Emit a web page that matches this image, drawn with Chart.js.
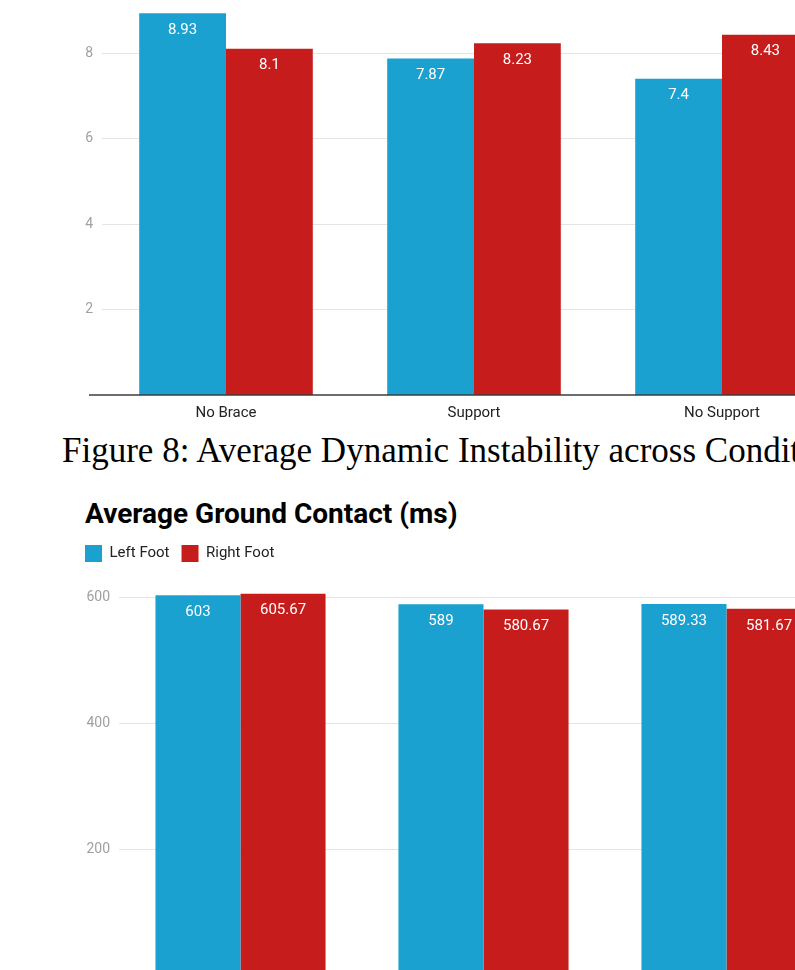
<!DOCTYPE html>
<html>
<head>
<meta charset="utf-8">
<title>Dynamic Instability and Ground Contact</title>
<script src="https://cdn.jsdelivr.net/npm/chart.js@4/dist/chart.umd.min.js"></script>
<style>
  html, body { margin: 0; padding: 0; background: #fff; }
  body { width: 795px; height: 970px; overflow: hidden; position: relative; }
  #instability { position: absolute; left: 0; top: 0; }
  #contact { position: absolute; left: 73px; top: 533px; }
  .caption {
    position: absolute; left: 62px; top: 433px;
    font-family: "Liberation Serif", "Times New Roman", serif;
    font-size: 35px; line-height: 35px; white-space: nowrap; color: #000;
  }
  .chart-title {
    position: absolute; left: 85px; top: 500px;
    font-family: Roboto, sans-serif; font-weight: 700;
    font-size: 28px; line-height: 28px; white-space: nowrap; color: #000;
  }
</style>
</head>
<body>
<canvas id="instability" width="846" height="430"></canvas>
<div class="caption">Figure 8: Average Dynamic Instability across Conditions</div>
<div class="chart-title">Average Ground Contact (ms)</div>
<canvas id="contact" width="775" height="473"></canvas>
<script>
// Conditions and series shared by both charts
const conditions = ['No Brace', 'Support', 'No Support'];
const seriesNames = ['Left Foot', 'Right Foot'];

// Average dynamic instability per condition
const instabilityLeft = [8.93, 7.87, 7.4];
const instabilityRight = [8.1, 8.23, 8.43];
const instabilityTicks = [2, 4, 6, 8];

// Average ground contact time (ms) per condition
const contactLeft = [603, 589, 589.33];
const contactRight = [605.67, 580.67, 581.67];
const contactTicks = [200, 400, 600];

const BLUE = '#1ba1cf';
const RED = '#c71c1c';

// White value text just inside the top of each bar
const valueLabels = {
  id: 'valueLabels',
  afterDatasetsDraw(chart) {
    const ctx = chart.ctx;
    ctx.save();
    ctx.font = '15px Roboto';
    ctx.fillStyle = '#ffffff';
    ctx.textAlign = 'center';
    ctx.textBaseline = 'middle';
    chart.data.datasets.forEach((ds, i) => {
      chart.getDatasetMeta(i).data.forEach((bar, j) => {
        ctx.fillText(String(ds.data[j]), bar.x, bar.y + 17);
      });
    });
    ctx.restore();
  }
};

// Dark zero line, running a little past the left edge of the plot
const zeroLine = {
  id: 'zeroLine',
  afterDatasetsDraw(chart) {
    const { ctx, chartArea, scales } = chart;
    const y = scales.y.getPixelForValue(0);
    ctx.save();
    ctx.strokeStyle = '#3c3c3c';
    ctx.lineWidth = 1.6;
    ctx.beginPath();
    ctx.moveTo(chartArea.left - 13, y);
    ctx.lineTo(chartArea.right, y);
    ctx.stroke();
    ctx.restore();
  }
};

function groupedBars(canvas, cfg) {
  return new Chart(canvas, {
    type: 'bar',
    data: {
      labels: conditions,
      datasets: [
        { label: seriesNames[0], data: cfg.left, backgroundColor: BLUE },
        { label: seriesNames[1], data: cfg.right, backgroundColor: RED }
      ]
    },
    options: {
      responsive: false,
      animation: false,
      layout: { padding: 0 },
      datasets: { bar: { categoryPercentage: 0.7, barPercentage: 1 } },
      plugins: {
        tooltip: { enabled: false },
        title: { display: false },
        legend: cfg.legend
      },
      scales: {
        x: {
          grid: { display: false },
          border: { display: false },
          ticks: { color: '#222', padding: 1, font: { family: 'Roboto', size: 15 } },
          afterFit(s) { s.height = cfg.xHeight; s.paddingLeft = 0; s.paddingRight = 0; }
        },
        y: {
          min: 0,
          max: cfg.max,
          grid: { color: '#e4e4e4', drawTicks: false },
          border: { display: false },
          ticks: { color: '#a0a0a0', padding: 9, font: { family: 'Roboto', size: 14 } },
          afterBuildTicks(s) { s.ticks = cfg.ticks.map(v => ({ value: v })); },
          afterFit(s) { s.width = cfg.yWidth; s.paddingTop = 0; s.paddingBottom = 0; }
        }
      }
    },
    plugins: cfg.plugins
  });
}

function draw() {
  groupedBars(document.getElementById('instability'), {
    left: instabilityLeft,
    right: instabilityRight,
    ticks: instabilityTicks,
    max: 9.24,
    xHeight: 35,
    yWidth: 102,
    legend: { display: false },
    plugins: [zeroLine, valueLabels]
  });

  groupedBars(document.getElementById('contact'), {
    left: contactLeft,
    right: contactRight,
    ticks: contactTicks,
    max: 640,
    xHeight: 30,
    yWidth: 46,
    legend: {
      display: true,
      position: 'top',
      align: 'start',
      labels: {
        boxWidth: 17,
        boxHeight: 17,
        padding: 12,
        color: '#222',
        font: { family: 'Roboto', size: 15 }
      }
    },
    plugins: [valueLabels]
  });
}

Promise.all([
  document.fonts.load('15px Roboto'),
  document.fonts.load('bold 28px Roboto'),
  document.fonts.load('35px "Liberation Serif"')
]).then(draw, draw);
</script>
</body>
</html>
